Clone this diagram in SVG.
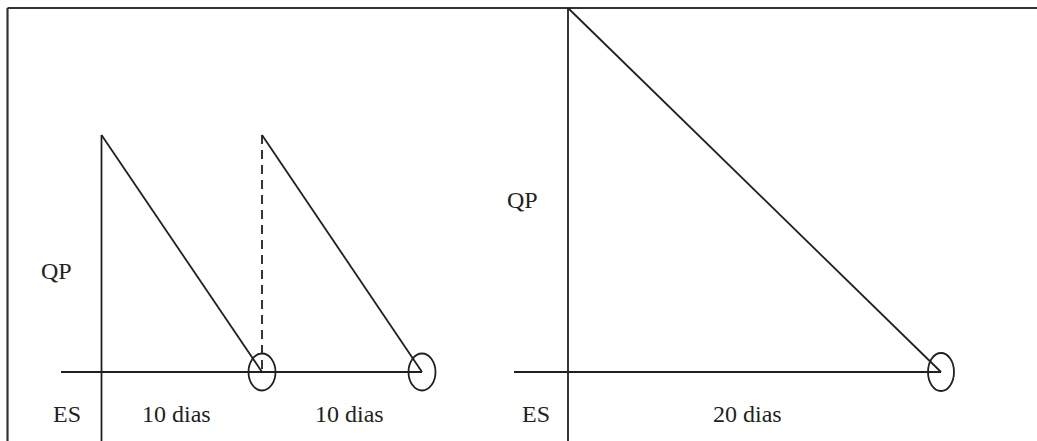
<svg xmlns="http://www.w3.org/2000/svg" width="1037" height="441" viewBox="0 0 1037 441">
<style>
.ln{stroke:#231f20;stroke-width:1.8;fill:none}
.bd{stroke:#333;stroke-width:2.2;fill:none}
.dash{stroke:#231f20;stroke-width:1.8;fill:none;stroke-dasharray:9 6}
text{font-family:'Liberation Serif','Times New Roman',Times,serif;font-size:24px;fill:#231f20}
</style>
<rect width="1037" height="441" fill="#fff"/>
<g id="frame">
<line class="bd" x1="7.5" y1="8" x2="1037" y2="8"/>
<line class="bd" x1="7.5" y1="8" x2="7.5" y2="441"/>
</g>
<g id="left-chart" font-family="Liberation Serif, serif">
<line class="ln" x1="101.5" y1="135" x2="101.5" y2="441"/>
<line class="ln" x1="61" y1="372" x2="422" y2="372"/>
<line class="ln" x1="101.5" y1="135" x2="262" y2="372"/>
<line class="dash" x1="262" y1="135" x2="262" y2="372"/>
<line class="ln" x1="262" y1="135" x2="422" y2="372"/>
<ellipse class="ln" cx="262" cy="372" rx="13.5" ry="18.5"/>
<ellipse class="ln" cx="422" cy="372" rx="13.5" ry="18.5"/>
<text x="41" y="279">QP</text>
<text x="53" y="422">ES</text>
<text x="142" y="422">10 dias</text>
<text x="315" y="422">10 dias</text>
</g>
<g id="right-chart" font-family="Liberation Serif, serif">
<line class="ln" x1="568" y1="8" x2="568" y2="441"/>
<line class="ln" x1="514" y1="372" x2="941" y2="372"/>
<line class="ln" x1="568" y1="8" x2="941" y2="372"/>
<ellipse class="ln" cx="941" cy="372" rx="13" ry="19"/>
<text x="507" y="208">QP</text>
<text x="522" y="422">ES</text>
<text x="713" y="422">20 dias</text>
</g>
</svg>
